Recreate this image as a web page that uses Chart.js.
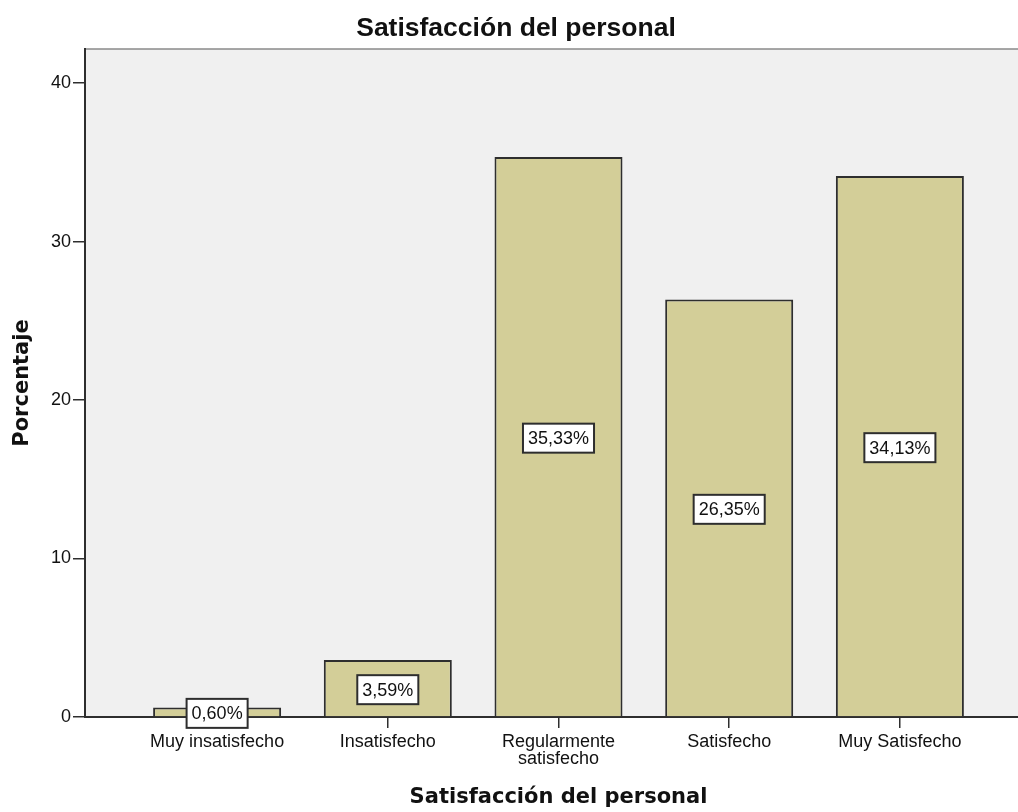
<!DOCTYPE html>
<html>
<head>
<meta charset="utf-8">
<title>Satisfacción del personal</title>
<script src="https://cdn.jsdelivr.net/npm/chart.js@4"></script>
<style>
    html, body { margin: 0; padding: 0; background: #fff; overflow: hidden; }
    #wrap { width: 1018px; height: 812px; overflow: hidden; }
    canvas { display: block; }
</style>
</head>
<body>
<div id="wrap">
    <canvas id="myChart" width="1032" height="812"></canvas>
</div>
<script>
// categories on the x axis (one label is split in two lines)
const categories = [
    'Muy insatisfecho',
    'Insatisfecho',
    ['Regularmente', 'satisfecho'],
    'Satisfecho',
    'Muy Satisfecho'
];
// percentage for each category
const percentages = [0.60, 3.59, 35.33, 26.35, 34.13];
// y axis ticks
const yTicks = [0, 10, 20, 30, 40];

const barFill = '#d3ce98';
const lineDark = '#2e2e2e';

// grey plot background + thin top frame line
const plotBackground = {
    id: 'plotBackground',
    beforeDraw(chart) {
        const {ctx, chartArea: a} = chart;
        ctx.save();
        ctx.fillStyle = '#f0f0f0';
        ctx.fillRect(a.left, a.top, a.right - a.left, a.bottom - a.top);
        ctx.strokeStyle = '#8a8a8a';
        ctx.lineWidth = 1.5;
        ctx.beginPath();
        ctx.moveTo(a.left, a.top);
        ctx.lineTo(a.right, a.top);
        ctx.stroke();
        ctx.restore();
    }
};

// white boxed value label in the middle of each bar
const barLabels = {
    id: 'barLabels',
    afterDatasetsDraw(chart) {
        const {ctx} = chart;
        const meta = chart.getDatasetMeta(0);
        ctx.save();
        ctx.font = '18px "Liberation Sans", Arial, sans-serif';
        ctx.textAlign = 'center';
        ctx.textBaseline = 'middle';
        meta.data.forEach((bar, i) => {
            const text = percentages[i].toFixed(2).replace('.', ',') + '%';
            const w = ctx.measureText(text).width + 10;
            const h = 29;
            const cx = bar.x;
            const cy = (bar.y + bar.base) / 2 + 1.5;
            ctx.fillStyle = '#fff';
            ctx.fillRect(cx - w / 2, cy - h / 2, w, h);
            ctx.strokeStyle = lineDark;
            ctx.lineWidth = 2;
            ctx.strokeRect(cx - w / 2, cy - h / 2, w, h);
            ctx.fillStyle = '#111';
            ctx.fillText(text, cx, cy + 1);
        });
        ctx.restore();
    }
};

const ctx = document.getElementById('myChart');
const myChart = new Chart(ctx, {
    type: 'bar',
    data: {
        datasets: [{
            label: 'Porcentaje',
            data: percentages.map((v, i) => ({x: i, y: v})),
            backgroundColor: barFill,
            borderColor: lineDark,
            borderWidth: 2,
            barPercentage: 0.75,
            categoryPercentage: 1
        }]
    },
    options: {
        responsive: false,
        animation: false,
        layout: { padding: 0 },
        plugins: {
            legend: { display: false },
            tooltip: { enabled: false },
            title: {
                display: true,
                text: 'Satisfacción del personal',
                color: '#111',
                font: { family: '"Liberation Sans", Arial, sans-serif', size: 26.5, weight: 'bold', lineHeight: 1.2 },
                padding: { top: 13, bottom: 4.2 }
            }
        },
        scales: {
            x: {
                type: 'linear',
                offset: false,
                min: -0.774,
                max: 4.774,
                afterBuildTicks: scale => {
                    scale.ticks = categories.map((c, i) => ({value: i}));
                },
                afterFit: scale => { scale.height = 95; },
                ticks: {
                    autoSkip: false,
                    maxRotation: 0,
                    padding: 5,
                    color: '#111',
                    font: { family: '"Liberation Sans", Arial, sans-serif', size: 18, lineHeight: 0.95 },
                    callback: value => categories[value]
                },
                grid: {
                    offset: false,
                    drawOnChartArea: false,
                    tickLength: 11,
                    color: lineDark,
                    lineWidth: 1.5
                },
                border: { display: true, color: lineDark, width: 2 },
                title: {
                    display: true,
                    text: 'Satisfacción del personal',
                    color: '#111',
                    font: { family: '"DejaVu Sans", sans-serif', size: 21, weight: 'bold', lineHeight: 1.2 },
                    padding: { top: 0, bottom: 1.5 }
                }
            },
            y: {
                min: 0,
                max: 42.15,
                afterBuildTicks: scale => {
                    scale.ticks = yTicks.map(v => ({value: v}));
                },
                afterFit: scale => { scale.width = 85; },
                ticks: {
                    padding: 2,
                    color: '#111',
                    font: { family: '"Liberation Sans", Arial, sans-serif', size: 18 }
                },
                grid: {
                    drawOnChartArea: false,
                    tickLength: 12,
                    color: lineDark,
                    lineWidth: 1.5
                },
                border: { display: true, color: lineDark, width: 2 },
                title: {
                    display: true,
                    text: 'Porcentaje',
                    color: '#111',
                    font: { family: '"DejaVu Sans", sans-serif', size: 21, weight: 'bold', lineHeight: 1.2 },
                    padding: { top: 10, bottom: 0 }
                }
            }
        }
    },
    plugins: [plotBackground, barLabels]
});
</script>
</body>
</html>
